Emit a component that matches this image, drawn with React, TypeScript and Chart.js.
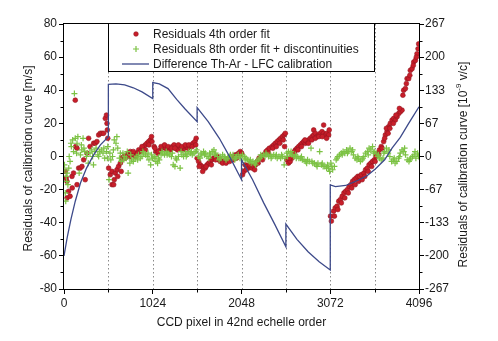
import React, { useEffect, useRef } from 'react';
import { Chart, registerables } from 'chart.js';

Chart.register(...registerables);

const FONT_FAMILY = '"Liberation Sans", Arial, Helvetica, sans-serif';
const TEXT_COLOR = '#1a1a1a';

// ---- axis ticks ----
const xTickValues = [0, 1024, 2048, 3072, 4096];
const xMinorValues = [512, 1536, 2560, 3584];
const dottedGridX = [512, 1024, 1536, 2048, 2560, 3072, 3584];
const yTickValues = [-80, -60, -40, -20, 0, 20, 40, 60, 80];
const yMinorValues = [-70, -50, -30, -10, 10, 30, 50, 70];
const rightTickLabels = ['-267', '-200', '-133', '-67', '0', '67', '133', '200', '267'];

// ---- Residuals 4th order fit (m/s) ----
const redX = [
  15, 25, 34, 35, 53, 70, 92, 95, 110, 130, 135, 150, 150, 169, 188, 207, 227, 245, 265, 284, 300, 342, 361, 380, 400, 419, 438, 457, 477, 490, 496, 500, 505,
  515, 534, 554, 554, 573, 592, 611, 630, 650, 669, 690, 707, 727, 746, 765, 785, 804, 823, 842, 862, 881, 900, 919, 938, 958, 977, 996, 1015,
  580, 620, 660, 720, 760, 800, 850, 900, 940, 980, 1010,
  1040, 1060, 1080, 1110, 1130, 1150, 1170, 1190, 1210, 1230, 1250, 1270, 1290, 1310, 1330, 1350, 1370, 1390, 1410, 1430, 1450, 1470, 1490, 1510, 1525,
  1050, 1090, 1120, 1160, 1200, 1240, 1280, 1320, 1360, 1400, 1440, 1480, 1520,
  1536, 1553, 1572, 1592, 1611, 1630, 1650, 1670, 1688, 1707, 1726, 1745, 1765, 1784, 1803, 1822, 1842, 1861, 1880, 1900, 1919, 1938, 1957, 1977, 1996, 2015, 2034,
  1560, 1600, 1640, 1700, 1750, 1790, 1830, 1870, 1910, 1950, 1990, 2030,
  2050, 2060, 2075, 2090, 2110, 2130, 2150, 2170, 2190, 2210, 2230, 2250, 2280, 2303, 2330, 2350, 2370, 2400, 2420, 2440, 2460, 2480, 2500, 2520, 2540, 2554, 2545,
  2100, 2140, 2200, 2240, 2290, 2360, 2410, 2450, 2490, 2530,
  2570, 2590, 2610, 2631, 2650, 2670, 2689, 2708, 2727, 2746, 2765, 2785, 2804, 2823, 2842, 2862, 2881, 2881, 2900, 2919, 2938, 2958, 2977, 2996, 2996, 3015, 3035, 3054,
  2600, 2660, 2700, 2740, 2780, 2820, 2860, 2900, 2940, 2980, 3030, 3060,
  3075, 3085, 3110, 3130, 3150, 3170, 3190, 3210, 3230, 3250, 3270, 3290, 3310, 3330, 3350, 3370, 3390, 3410, 3430, 3460, 3480, 3500, 3520, 3540, 3560, 3580, 3600,
  3620, 3640, 3660, 3688, 3708, 3727, 3746, 3765, 3785, 3804, 3823, 3843, 3862, 3881, 3900, 3919, 3939, 3958, 3977, 3996, 4016, 4035, 4054, 4073, 4092,
  3120, 3160, 3200, 3240, 3280, 3320, 3360, 3400, 3440, 3470, 3510, 3550, 3590, 3630, 3670, 3700, 3720, 3740, 3760, 3800, 3830, 3870, 3910, 3950, 3990, 4030, 4065, 4085,
];
const redY = [
  -9, -13, -15, -25, -21, -24, -12, -19, -10, 34, 6, -17, 5, -7, -7, -6, -2, -14, 2, 11, 6, 8, 8, 9, 13, 14, 14, 14, 23, 25, 20, 16, 11,
  -7, -11, -9, -17, -17, -10, -8, -6, -4, -1, 0, -1, 1, 2, 3, 2, 1, 0, 2, 4, 3, 5, 6, 7, 8, 9, 10, 9,
  -14, -12, -9, 0, 0, 3, 2, 6, 4, 7, 12,
  6, 3, 2, 4, 5, 6, 5, 4, 5, 4, 6, 7, 5, 4, 6, 5, 4, 5, 6, 5, 6, 7, 8, 9, 11,
  5, 3, 6, 7, 6, 5, 5, 7, 6, 7, 7, 6, 7,
  -1, -3, -5, -6, -7, -7, -5, -4, -3, -2, -1, -1, 0, -2, -3, -3, -3, -2, -2, -1, -1, 0, 0, 1, 1, 2, 3,
  -6, -9, -6, -5, -2, -1, -4, -4, -3, -2, -1, 1,
  2, -11, -9, -5, -6, -7, -6, -7, -6, -5, -3, -1, 0, 1, 3, 4, 5, 6, 7, 8, 9, 10, 11, 12, 13, 14, 6,
  -8, -5, -8, -4, -2, 2, 5, 6, 8, 10,
  -2, -4, -3, -1, 2, 4, 5, 6, 7, 8, 9, 8, 9, 10, 11, 12, 13, 16, 14, 12, 13, 14, 15, 14, 19, 13, 14, 13,
  -1, 3, 4, 6, 10, 8, 10, 11, 12, 12, 11, 16,
  -36, -39, -33, -31, -30, -27, -26, -24, -22, -21, -20, -18, -17, -15, -14, -13, -12, -12, -11, -10, -8, -7, -5, -4, -3, -2, 0,
  2, 4, 6, 9, 13, 15, 18, 20, 22, 23, 22, 24, 26, 27, 28, 40, 41, 47, 47, 52, 53, 57, 58, 62, 68,
  -36, -32, -28, -25, -22, -19, -17, -15, -14, -12, -9, -6, -3, 1, 5, 11, 17, 14, 17, 20, 25, 29, 37, 44, 49, 55, 60, 65,
];

// ---- Residuals 8th order fit + discontinuities (m/s) ----
const greenX = [
  5, 10, 15, 20, 25, 35, 45, 55, 70, 85, 100, 120, 130, 145, 160, 175, 190, 205, 220, 240, 260, 280, 300, 320, 340, 355, 370, 390, 410, 430, 450, 470, 490, 505,
  30, 60, 80, 110, 150, 200, 230, 270, 330, 400, 460, 500,
  520, 540, 560, 580, 600, 620, 640, 660, 680, 700, 720, 740, 760, 780, 800, 820, 840, 860, 880, 900, 920, 940, 960, 980, 1000, 1020,
  530, 570, 610, 650, 690, 730, 770, 850, 910, 970, 1010,
  1040, 1060, 1080, 1100, 1120, 1140, 1160, 1180, 1200, 1220, 1240, 1260, 1280, 1300, 1320, 1340, 1360, 1380, 1400, 1420, 1440, 1460, 1480, 1500, 1520,
  1050, 1090, 1130, 1190, 1250, 1290, 1350, 1410, 1470, 1530,
  1550, 1570, 1590, 1610, 1630, 1650, 1670, 1690, 1710, 1730, 1750, 1770, 1790, 1810, 1830, 1850, 1870, 1890, 1910, 1930, 1950, 1970, 1990, 2010, 2030,
  1580, 1620, 1680, 1740, 1800, 1860, 1920, 1980, 2040,
  2060, 2080, 2100, 2120, 2140, 2160, 2180, 2200, 2220, 2240, 2260, 2280, 2300, 2320, 2340, 2360, 2380, 2400, 2420, 2440, 2460, 2480, 2500, 2520, 2540, 2550,
  2090, 2150, 2210, 2270, 2330, 2390, 2450, 2510,
  2570, 2590, 2610, 2630, 2650, 2670, 2690, 2710, 2730, 2750, 2770, 2790, 2810, 2830, 2850, 2870, 2890, 2910, 2930, 2950, 2970, 2990, 3010, 3030, 3050, 3065,
  2580, 2620, 2680, 2740, 2800, 2860, 2920, 2980, 3040,
  3080, 3100, 3120, 3140, 3160, 3180, 3200, 3220, 3240, 3260, 3280, 3300, 3320, 3340, 3360, 3380, 3400, 3420, 3440, 3460, 3480, 3500, 3520, 3540, 3560, 3580,
  3600, 3620, 3640, 3660, 3680, 3700, 3720, 3740, 3760, 3780, 3800, 3820, 3840, 3860, 3880, 3900, 3920, 3940, 3960, 3980, 4000, 4020, 4040, 4060, 4080,
  3090, 3150, 3210, 3270, 3330, 3390, 3450, 3510, 3570, 3630, 3690, 3750, 3810, 3870, 3930, 3990, 4050, 4090,
];
const greenY = [
  -5, -8, -22, -27, -12, -10, -17, -7, -3, 6, 10, 38, 11, 2, 12, -10, 1, 4, 11, 3, 0, -4, 2, 4, -5, 3, 5, 1, 3, 4, 2, -1, 3, 6,
  -15, 0, 8, 3, 8, 7, 5, 2, 0, 0, 5, -1,
  -14, -2, 0, 10, 8, 5, -1, -3, 2, 0, -1, -10, -4, -2, -3, -1, 0, 1, -1, 0, 2, 1, 0, -2, -5, -1,
  2, 4, 12, 2, -2, 3, 1, -2, 3, 2, 1,
  -1, -3, -4, -2, 1, 2, 1, 3, 2, 1, 0, -5, -6, -2, 0, -7, 1, 0, 2, 1, 3, 2, 1, 2, 3,
  0, -1, 3, 1, 2, -1, 3, 0, 3, 4,
  0, -1, 1, 3, 2, 0, -1, 1, 3, 4, 2, 0, -2, -1, 1, 0, -2, -1, 0, -1, 1, -2, 0, 1, -1,
  2, 1, 2, 1, 0, -1, 1, -1, 0,
  1, 0, -1, -2, -3, -4, -3, -4, -3, -2, -1, 0, 1, 0, 1, 0, 1, 0, 1, 0, -1, 0, -1, 0, -5, -1,
  -2, -2, -5, 1, 2, -1, 1, 1,
  2, 3, 2, 1, 0, 1, 0, -1, -1, -2, -2, -3, -2, -3, 5, -4, -4, -5, -4, 3, -5, -6, -6, -7, -7, -9,
  0, 3, -1, 0, -4, -3, -6, -4, -5,
  -4, -8, -6, -2, 0, 1, 2, 3, 2, 4, 3, 5, 3, 1, -1, -2, -1, -3, -2, 0, 2, 3, 5, 4, 6, 3,
  2, 0, -1, -2, -1, 3, 5, 2, 0, -3, -2, -4, -3, -1, 2, 4, 3, 1, -2, -3, -1, 0, 1, -1, 2,
  -6, -1, 1, 2, 4, 0, -1, 1, 2, 1, 2, 4, -1, 0, 5, -2, 3, 0,
];

// ---- Difference Th-Ar - LFC calibration (m/s equivalent) ----
const lineX = [
  0, 40, 80, 130, 190, 260, 342, 420, 512,
  512, 600, 700, 800, 900, 1024,
  1024, 1100, 1200, 1300, 1400, 1536,
  1536, 1664, 1792, 1920, 2048,
  2048, 2176, 2304, 2432, 2560,
  2560, 2688, 2816, 2944, 3072,
  3072, 3131, 3250, 3400, 3500, 3592, 3700, 3785, 3880, 3977, 4096,
];
const lineY = [
  -60, -48, -38, -27, -16, -7, 1, 7, 12,
  43.5, 43.9, 43.2, 41.5, 39, 35,
  44.6, 43.8, 41, 34.5, 28.5, 21,
  29.5, 21, 11, -1, -14,
  -2, -14, -28, -41, -54.5,
  -40.8, -50, -57.5, -63.5, -68.5,
  -17.2, -18.2, -17.5, -14.2, -11.5, -7.5, -2, 5, 11.5, 20, 30,
];

const font12 = { family: FONT_FAMILY, size: 12 };

const framePlugin = {
  id: 'framePlugin',
  beforeDatasetsDraw(chart: any) {
    const { ctx, chartArea: a, scales } = chart;
    ctx.save();
    ctx.strokeStyle = '#8a8a8a';
    ctx.lineWidth = 1;
    ctx.setLineDash([1.5, 2.5]);
    for (const v of dottedGridX) {
      const px = Math.round(scales.x.getPixelForValue(v)) + 0.5;
      ctx.beginPath();
      ctx.moveTo(px, a.top);
      ctx.lineTo(px, a.bottom);
      ctx.stroke();
    }
    ctx.restore();
  },
  afterDraw(chart: any) {
    const { ctx, chartArea: a, scales } = chart;
    ctx.save();
    ctx.strokeStyle = '#000';
    ctx.lineWidth = 1;
    // frame
    const L = Math.round(a.left) - 0.5;
    const R = Math.round(a.right) + 0.5;
    const T = Math.round(a.top) - 0.5;
    const B = Math.round(a.bottom) + 0.5;
    ctx.strokeRect(L, T, R - L, B - T);
    // minor ticks
    ctx.beginPath();
    for (const v of yMinorValues) {
      const py = Math.round(scales.y.getPixelForValue(v)) + 0.5;
      ctx.moveTo(L - 3, py);
      ctx.lineTo(L, py);
      ctx.moveTo(R, py);
      ctx.lineTo(R + 3, py);
    }
    for (const v of xMinorValues) {
      const px = Math.round(scales.x.getPixelForValue(v)) + 0.5;
      ctx.moveTo(px, B);
      ctx.lineTo(px, B + 3);
    }
    ctx.stroke();

    // legend box
    const lx = 108, ly = 24, lw = 266, lh = 48;
    ctx.fillStyle = '#fff';
    ctx.fillRect(lx, ly, lw, lh);
    ctx.strokeStyle = '#000';
    ctx.strokeRect(lx + 0.5, ly - 0.5, lw, lh);
    const ds = chart.data.datasets;
    const rows = [34, 49, 64];
    ctx.font = `12px ${FONT_FAMILY}`;
    ctx.fillStyle = TEXT_COLOR;
    ctx.textAlign = 'left';
    ctx.textBaseline = 'middle';
    for (let i = 0; i < 3; i++) ctx.fillText(ds[i].label, 153, rows[i] + 0.5);
    // red dot
    ctx.beginPath();
    ctx.arc(136, rows[0], 2.3, 0, Math.PI * 2);
    ctx.fillStyle = ds[0].backgroundColor;
    ctx.fill();
    ctx.strokeStyle = ds[0].borderColor;
    ctx.lineWidth = 0.6;
    ctx.stroke();
    // green plus
    ctx.beginPath();
    ctx.strokeStyle = ds[1].borderColor;
    ctx.lineWidth = 1.2;
    ctx.moveTo(133, rows[1]);
    ctx.lineTo(139, rows[1]);
    ctx.moveTo(136, rows[1] - 3);
    ctx.lineTo(136, rows[1] + 3);
    ctx.stroke();
    // line
    ctx.beginPath();
    ctx.strokeStyle = ds[2].borderColor;
    ctx.lineWidth = 1.3;
    ctx.moveTo(122, rows[2]);
    ctx.lineTo(149, rows[2]);
    ctx.stroke();

    // axis titles
    ctx.fillStyle = TEXT_COLOR;
    ctx.font = `12px ${FONT_FAMILY}`;
    ctx.textAlign = 'center';
    ctx.textBaseline = 'middle';
    ctx.fillText('CCD pixel in 42nd echelle order', (a.left + a.right) / 2, 323);

    ctx.save();
    ctx.translate(29, (a.top + a.bottom) / 2 + 2);
    ctx.rotate(-Math.PI / 2);
    ctx.fillText('Residuals of calibration curve [m/s]', 0, 0);
    ctx.restore();

    // right title with superscript
    ctx.save();
    ctx.translate(464, (a.top + a.bottom) / 2 + 8);
    ctx.rotate(-Math.PI / 2);
    const p1 = 'Residuals of calibration curve [10';
    const sup = '-9';
    const p2 = ' v/c]';
    ctx.font = `12px ${FONT_FAMILY}`;
    const w1 = ctx.measureText(p1).width;
    const w3 = ctx.measureText(p2).width;
    ctx.font = `8px ${FONT_FAMILY}`;
    const w2 = ctx.measureText(sup).width;
    const total = w1 + w2 + w3;
    const x0 = -total / 2;
    ctx.textAlign = 'left';
    ctx.font = `12px ${FONT_FAMILY}`;
    ctx.fillText(p1, x0, 0);
    ctx.font = `8px ${FONT_FAMILY}`;
    ctx.fillText(sup, x0 + w1, -5);
    ctx.font = `12px ${FONT_FAMILY}`;
    ctx.fillText(p2, x0 + w1 + w2, 0);
    ctx.restore();

    ctx.restore();
  },
};

export default function App() {
  const ref = useRef<HTMLCanvasElement>(null);
  useEffect(() => {
    const canvas = ref.current;
    if (!canvas) return;
    const chart = new Chart(canvas, {
      type: 'scatter',
      data: {
        datasets: [
          {
            label: 'Residuals 4th order fit',
            data: redX.map((x, i) => ({ x, y: redY[i] })),
            pointStyle: 'circle',
            pointRadius: 2.4,
            backgroundColor: '#c81e2a',
            borderColor: '#961520',
            borderWidth: 0.6,
            showLine: false,
            order: 2,
          },
          {
            label: 'Residuals 8th order fit + discontinuities',
            data: greenX.map((x, i) => ({ x, y: greenY[i] })),
            pointStyle: 'cross',
            pointRadius: 3,
            backgroundColor: '#7cc244',
            borderColor: '#7cc244',
            borderWidth: 1.2,
            showLine: false,
            order: 1,
          },
          {
            label: 'Difference Th-Ar - LFC calibration',
            data: lineX.map((x, i) => ({ x, y: lineY[i] })),
            showLine: true,
            pointRadius: 0,
            borderColor: '#3d4a8a',
            backgroundColor: '#3d4a8a',
            borderWidth: 1.3,
            tension: 0,
            order: 0,
          },
        ],
      },
      options: {
        responsive: false,
        animation: false,
        devicePixelRatio: 1,
        layout: { padding: { top: 24, left: 0, right: 0, bottom: 0 } },
        plugins: { legend: { display: false }, tooltip: { enabled: false } },
        scales: {
          x: {
            type: 'linear',
            position: 'bottom',
            min: 0,
            max: 4096,
            afterBuildTicks: (s: any) => {
              s.ticks = xTickValues.map((v) => ({ value: v }));
            },
            afterFit: (s: any) => {
              s.height = 52;
            },
            ticks: {
              autoSkip: false,
              maxRotation: 0,
              font: font12,
              color: TEXT_COLOR,
              padding: 2,
              callback: (v: any) => String(v),
            },
            grid: { display: true, drawOnChartArea: false, drawTicks: true, tickLength: 5, color: '#000', lineWidth: 1 },
            border: { display: false },
          },
          y: {
            type: 'linear',
            position: 'left',
            min: -80,
            max: 80,
            afterBuildTicks: (s: any) => {
              s.ticks = yTickValues.map((v) => ({ value: v }));
            },
            afterFit: (s: any) => {
              s.width = 64;
            },
            ticks: { font: font12, color: TEXT_COLOR, padding: 2, callback: (v: any) => String(v) },
            grid: { display: true, drawOnChartArea: false, drawTicks: true, tickLength: 5, color: '#000', lineWidth: 1 },
            border: { display: false },
          },
          y2: {
            type: 'linear',
            position: 'right',
            min: -80,
            max: 80,
            afterBuildTicks: (s: any) => {
              s.ticks = yTickValues.map((v) => ({ value: v }));
            },
            afterFit: (s: any) => {
              s.width = 79;
            },
            ticks: {
              font: font12,
              color: TEXT_COLOR,
              padding: 1,
              callback: (_v: any, i: number) => rightTickLabels[i],
            },
            grid: { display: true, drawOnChartArea: false, drawTicks: true, tickLength: 5, color: '#000', lineWidth: 1 },
            border: { display: false },
          },
        },
      },
      plugins: [framePlugin],
    } as any);
    return () => chart.destroy();
  }, []);
  return (
    <div style={{ position: 'fixed', left: 0, top: 0, width: 498, height: 341, background: '#fff' }}>
      <canvas ref={ref} width={498} height={341} style={{ display: 'block', width: 498, height: 341 }} />
    </div>
  );
}
